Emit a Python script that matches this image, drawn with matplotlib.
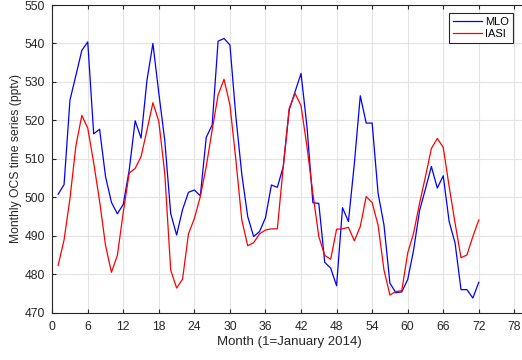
import numpy as np
import matplotlib
matplotlib.use("Agg")
import matplotlib.pyplot as plt

plt.rcParams['font.family'] = ['Liberation Sans', 'DejaVu Sans']

months = np.arange(1, 73)

mlo = [500.8, 503.3, 525.3, 531.7, 538.2, 540.4, 516.5, 517.7, 505.4, 498.7,
       495.7, 498.2, 507.1, 519.9, 515.4, 530.5, 540.0, 527.0, 514.8, 495.8,
       490.2, 496.8, 501.3, 501.9, 500.4, 515.6, 518.8, 540.6, 541.3, 539.6,
       521.0, 506.0, 495.0, 489.8, 491.1, 494.7, 503.2, 502.6, 508.0, 522.7,
       527.5, 532.2, 518.4, 498.6, 498.4, 483.1, 481.6, 477.0, 497.3, 493.7,
       508.8, 526.4, 519.3, 519.3, 501.1, 492.8, 477.7, 475.2, 475.4, 478.6,
       486.3, 496.5, 502.2, 508.0, 502.4, 505.6, 493.7, 488.1, 476.0, 476.0,
       473.8, 477.9]

iasi = [482.3, 488.9, 499.7, 513.4, 521.3, 518.0, 509.0, 499.0, 487.5, 480.5,
        484.9, 496.2, 506.3, 507.5, 510.6, 517.5, 524.6, 519.7, 506.2, 481.1,
        476.4, 478.7, 490.5, 494.5, 500.2, 508.0, 517.5, 526.6, 530.7, 524.0,
        509.7, 494.1, 487.4, 488.2, 490.5, 491.5, 491.8, 491.8, 508.0, 523.1,
        527.0, 523.8, 513.2, 501.0, 489.8, 484.9, 483.9, 491.7, 491.8, 492.2,
        488.7, 492.4, 500.2, 498.6, 492.8, 481.1, 474.6, 475.5, 475.7, 485.5,
        490.7, 498.4, 505.4, 512.7, 515.3, 513.0, 502.8, 493.3, 484.3, 485.0,
        489.8, 494.1]

xticks = np.arange(0, 79, 6)
yticks = np.arange(470, 551, 10)

fig = plt.figure(figsize=(5.22, 3.6), dpi=100)
ax = fig.add_axes([0.1, 0.1314, 0.908, 0.8547])

ax.plot(months, mlo, color='blue', lw=0.9, label='MLO')
ax.plot(months, iasi, color='red', lw=0.9, label='IASI')

ax.set_xlim(0, 80)
ax.set_ylim(470, 550)
ax.set_xticks(xticks)
ax.set_yticks(yticks)
ax.grid(True, color='#e3e3e3', lw=0.8)
ax.set_axisbelow(True)
ax.tick_params(direction='in', top=True, right=True, labelsize=8.7,
               colors='#262626', length=3, width=0.8)
ax.tick_params(axis='x', pad=6)
ax.tick_params(axis='y', pad=5)
for s in ax.spines.values():
    s.set_color('#262626')
    s.set_linewidth(0.8)

ax.set_xlabel('Month (1=January 2014)', fontsize=9.5, color='#262626', labelpad=2)
ax.set_ylabel('Monthly OCS time series (pptv)', fontsize=8.7, color='#262626', labelpad=2)

leg = ax.legend(loc='upper right', bbox_to_anchor=(0.972, 0.975), fontsize=8,
                fancybox=False, framealpha=1, edgecolor='#262626',
                handlelength=2.6, handletextpad=0.3, borderpad=0.35,
                labelspacing=0.25, borderaxespad=0)
leg.get_frame().set_linewidth(0.8)

fig.savefig('out.png', dpi=100)
